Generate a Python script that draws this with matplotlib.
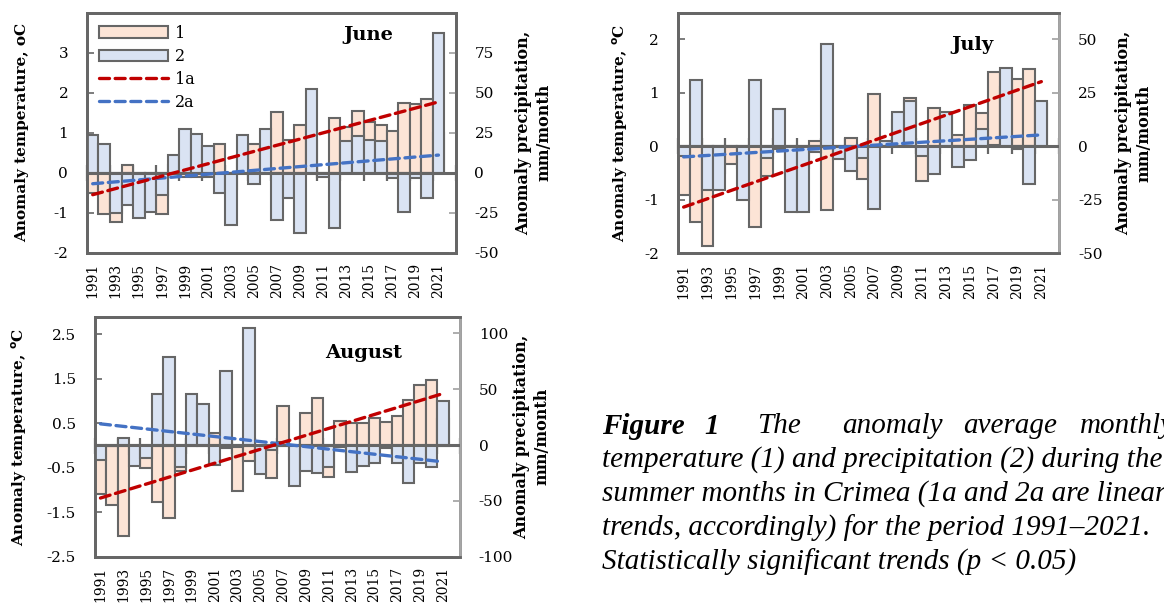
import numpy as np
import matplotlib
matplotlib.use('Agg')
import matplotlib.pyplot as plt
from matplotlib.patches import Patch
from matplotlib.lines import Line2D

years = list(range(1991, 2022))

# anomalies (temperature degC, precipitation mm/month)
june_temp = [-0.5, -1.02, -1.23, 0.2, -0.6, -0.4, -1.04, 0.2, -0.1, -0.1, -0.1,
             0.72, -0.4, 0.4, 0.71, 0.6, 1.51, 0.82, 1.18, 0.8, -0.05, 1.36,
             1.13, 1.54, 1.27, 1.2, 1.04, 1.74, 1.72, 1.84, 1.0]
june_prec = [23.5, 17.7, -25.4, -20.4, -28.5, -24.6, -14, 10.8, 27, 24, 16.7,
             -12.5, -32.7, 23.5, -7.3, 27, -29.6, -15.6, -37.5, 52, -2.5, -34.8,
             19.8, 22.7, 20.6, 19.6, -3.1, -24.6, -3.1, -15.6, 87]
july_temp = [-0.92, -1.41, -1.86, -0.5, -0.34, -0.4, -1.52, -0.56, -0.05, -0.5,
             -0.4, 0.1, -1.19, -0.1, 0.16, -0.62, 0.97, 0.05, 0.5, 0.91, -0.66,
             0.71, 0.6, 0.21, 0.78, 0.63, 1.39, 1.1, 1.26, 1.44, 0.8]
july_prec = [-4.7, 31, -20.6, -20.6, 0, -25.3, 31, -5.5, 17.2, -31, -31, -2.7,
             47.7, -6.1, -11.6, -5.5, -29.5, 2.5, 16.1, 21.3, -4.5, -12.8, 16.1,
             -9.7, -6.6, 8.3, 0.5, 36.7, -1.3, -17.5, 21.3]
aug_temp = [-1.1, -1.33, -2.03, -0.2, -0.5, -1.28, -1.63, -0.58, 0.1, 0.2, 0.28,
            -0.05, -1.02, -0.34, -0.3, -0.74, 0.88, -0.3, 0.74, 1.07, -0.71, 0.56,
            0.51, 0.5, 0.62, 0.53, 0.67, 1.03, 1.37, 1.47, 0.6]
aug_prec = [-13.5, -1, 6, -18.6, -11.4, 45.8, 79.3, -19.5, 45.8, 36.5, -18, 66.5,
            -2, 104.8, -26, -4.5, 3, -36.8, -23, -25.4, -20, -1.5, -24, -18.9,
            -16.5, -3, -16.5, -34.4, -16.5, -19.5, 39.5]

# linear trends, value at 1991 and at 2021
june_trend_temp = [-0.55, 1.77]
june_trend_prec = [-6.9, 11]
july_trend_temp = [-1.14, 1.21]
july_trend_prec = [-5, 5.3]
aug_trend_temp = [-1.18, 1.17]
aug_trend_prec = [19, -15]

plt.rcParams['font.family'] = 'DejaVu Serif'
plt.rcParams['axes.unicode_minus'] = False

peach = '#FCE4D6'
blue = '#DAE3F3'
edge = '#666666'
red_line = '#C00000'
blue_line = '#4472C4'
dash = (3.0, 1.7)

fig = plt.figure(figsize=(11.64, 6.04), dpi=100)


def panel(rect, temp, prec, t_trend, p_trend, tlim, plim, tticks, pticks,
          title, title_xy, ylab, lab_left, lab_right, right_col):
    ax = fig.add_axes(rect)
    ax2 = ax.twinx()
    x = np.arange(len(years))
    ax.bar(x, temp, width=1.0, color=peach, edgecolor=edge, linewidth=1.5, zorder=2)
    ax2.bar(x, prec, width=1.0, color=blue, edgecolor=edge, linewidth=1.5, zorder=2)
    ends = [x[0], x[-1]]
    ax2.axhline(0, color=edge, lw=2.2, zorder=3)
    ax2.plot(ends, p_trend, color=blue_line, lw=2.4, dashes=dash,
             dash_capstyle='round', zorder=4)
    ax2.plot(ends, t_trend, color=red_line, lw=2.4, dashes=dash,
             dash_capstyle='round', zorder=5, transform=ax.transData)
    ax.set_xlim(-0.5, len(years) + 0.5)
    ax.set_ylim(*tlim)
    ax2.set_ylim(*plim)
    ax.set_yticks(tticks)
    ax.set_yticklabels([('%g' % t) for t in tticks])
    ax2.set_yticks(pticks)
    ax.set_xticks(x[::2])
    ax.set_xticklabels([str(y) for y in years[::2]], rotation=90)
    ax.tick_params(axis='x', length=0, pad=7.5, labelsize=10)
    ax.tick_params(axis='y', direction='in', length=5, width=1.2, color=edge,
                   pad=13.5, labelsize=11)
    ax2.tick_params(axis='y', direction='in', length=5, width=1.2,
                    color='#A0A0A0', pad=13.5, labelsize=11)
    # category tick marks on the zero line
    sec = ax.secondary_xaxis(0, transform=ax.transData)
    sec.set_xticks(np.arange(-0.5, len(years) + 1, 2))
    sec.tick_params(direction='inout', length=11, width=1.6, color=edge,
                    labelbottom=False)
    sec.spines['bottom'].set_visible(False)
    for a in (ax, ax2):
        for s in a.spines.values():
            s.set_color(edge)
            s.set_linewidth(2)
    ax2.spines['right'].set_color(right_col)
    ax2.text(title_xy[0], title_xy[1], title, transform=ax.transAxes,
             ha='center', va='center', fontsize=14, fontweight='bold')
    ax.set_ylabel(ylab, fontsize=11, fontweight='bold')
    ax.yaxis.set_label_coords(lab_left, 0.5)
    ax2.set_ylabel('Anomaly precipitation,\nmm/month', fontsize=11.5,
                   fontweight='bold', linespacing=1.25)
    ax2.yaxis.set_label_coords(lab_right, 0.5)
    return ax, ax2


ax_j, ax_j2 = panel([0.0747, 0.5816, 0.3168, 0.3974], june_temp, june_prec,
                    june_trend_temp, june_trend_prec, (-2, 4), (-50, 100),
                    [-2, -1, 0, 1, 2, 3], [-50, -25, 0, 25, 50, 75],
                    'June', (0.762, 0.907), 'Anomaly temperature, oC',
                    -0.157, 1.161, edge)

panel([0.5822, 0.5811, 0.3278, 0.3978], july_temp, july_prec,
      july_trend_temp, july_trend_prec, (-2, 2.5), (-50, 62.5),
      [-2, -1, 0, 1, 2], [-50, -25, 0, 25, 50],
      'July', (0.773, 0.866), 'Anomaly temperature, $^{\\mathbf{o}}$C',
      -0.125, 1.146, '#A6A6A6')

panel([0.0814, 0.0783, 0.3138, 0.3974], aug_temp, aug_prec,
      aug_trend_temp, aug_trend_prec, (-2.5, 2.9), (-100, 115),
      [-2.5, -1.5, -0.5, 0.5, 1.5, 2.5], [-100, -50, 0, 50, 100],
      'August', (0.735, 0.8475), 'Anomaly temperature, $^{\\mathbf{o}}$C',
      -0.18, 1.145, '#A6A6A6')

handles = [Patch(facecolor=peach, edgecolor=edge, linewidth=1.5, label='1'),
           Patch(facecolor=blue, edgecolor=edge, linewidth=1.5, label='2'),
           Line2D([], [], color=red_line, lw=2.4, dashes=dash,
                  dash_capstyle='round', label='1a'),
           Line2D([], [], color=blue_line, lw=2.4, dashes=dash,
                  dash_capstyle='round', label='2a')]
ax_j2.legend(handles=handles, loc='upper left', bbox_to_anchor=(0, 1),
             borderaxespad=0, borderpad=0.75, frameon=False, fontsize=11.5,
             handlelength=4.3, handleheight=0.7, labelspacing=0.38,
             handletextpad=0.45)

# caption
cap = dict(fontsize=21, family=['Liberation Serif'], style='italic', va='center')
W, H = 1164.0, 604.0
line_y = [426, 460, 494, 528, 562]
fig.text(602 / W, 1 - line_y[0] / H, 'Figure', fontweight='bold', **cap)
fig.text(704 / W, 1 - line_y[0] / H, '1', fontweight='bold', **cap)
for word, px in [('The', 757), ('anomaly', 842), ('average', 963), ('monthly', 1080)]:
    fig.text(px / W, 1 - line_y[0] / H, word, **cap)
fig.text(602 / W, 1 - line_y[1] / H, 'temperature (1) and precipitation (2) during the', **cap)
fig.text(602 / W, 1 - line_y[2] / H, 'summer months in Crimea (1a and 2a are linear', **cap)
fig.text(602 / W, 1 - line_y[3] / H, 'trends, accordingly) for the period 1991\u20132021.', **cap)
fig.text(602 / W, 1 - line_y[4] / H, 'Statistically significant trends (p < 0.05)', **cap)

fig.savefig('out.png', dpi=100)
